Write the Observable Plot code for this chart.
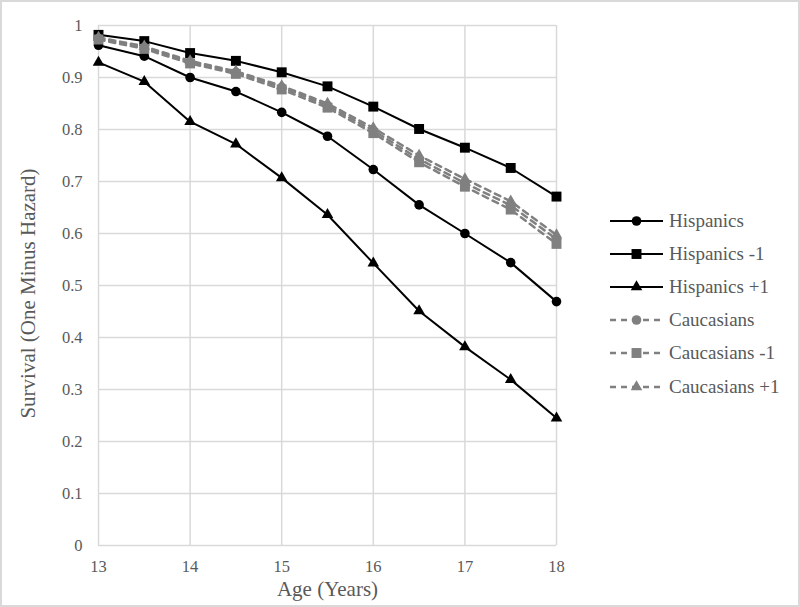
<!DOCTYPE html>
<html><head><meta charset="utf-8">
<script src="https://cdn.jsdelivr.net/npm/d3@7"></script>
<script src="https://cdn.jsdelivr.net/npm/@observablehq/plot@0.6"></script>
<style>
html,body{margin:0;padding:0;background:#fff;}
#wrap{position:relative;width:800px;height:607px;overflow:hidden;background:#fff;}
#chart{position:absolute;left:0;top:0;}
#chart svg text{font-family:"Liberation Serif","Times New Roman",serif;}
#frame{position:absolute;left:0;top:0;width:800px;height:607px;box-sizing:border-box;border:2px solid #d9d9d9;pointer-events:none;}
#legend{position:absolute;left:610px;top:204px;}
.row{display:flex;align-items:center;height:33.2px;font-family:"Liberation Serif","Times New Roman",serif;font-size:19px;color:#595959;white-space:nowrap;}
.row svg{margin-right:6px;display:block;}
</style></head>
<body><div id="wrap"><div id="chart"></div><div id="legend"></div><div id="frame"></div></div>
<script>
// ---- data ----
const ages = [13, 13.5, 14, 14.5, 15, 15.5, 16, 16.5, 17, 17.5, 18];
const hispanics        = [0.962, 0.941, 0.900, 0.873, 0.833, 0.787, 0.723, 0.655, 0.600, 0.544, 0.469];
const hispanicsMinus1  = [0.982, 0.970, 0.947, 0.932, 0.910, 0.883, 0.844, 0.801, 0.765, 0.726, 0.671];
const hispanicsPlus1   = [0.929, 0.892, 0.815, 0.772, 0.707, 0.636, 0.543, 0.451, 0.382, 0.319, 0.245];
const caucasians       = [0.975, 0.958, 0.930, 0.910, 0.881, 0.846, 0.798, 0.743, 0.697, 0.654, 0.589];
const caucasiansMinus1 = [0.973, 0.955, 0.927, 0.907, 0.877, 0.842, 0.793, 0.737, 0.690, 0.646, 0.580];
const caucasiansPlus1  = [0.977, 0.960, 0.932, 0.912, 0.884, 0.850, 0.803, 0.750, 0.705, 0.662, 0.597];
const seriesNames = ["Hispanics", "Hispanics -1", "Hispanics +1", "Caucasians", "Caucasians -1", "Caucasians +1"];
const xTicks = [13, 14, 15, 16, 17, 18];
const yTicks = [0, 0.1, 0.2, 0.3, 0.4, 0.5, 0.6, 0.7, 0.8, 0.9, 1];
const xTitle = "Age (Years)";
const yTitle = "Survival (One Minus Hazard)";

// ---- build table ----
const seriesValues = [hispanics, hispanicsMinus1, hispanicsPlus1, caucasians, caucasiansMinus1, caucasiansPlus1];
const rows = [];
seriesNames.forEach((name, i) => ages.forEach((a, j) => rows.push({series: name, age: a, value: seriesValues[i][j]})));

const styles = {
  "Hispanics":     {color: "#000000", dash: null,  symbol: "circle",   r: 4.8, width: 2},
  "Hispanics -1":  {color: "#000000", dash: null,  symbol: "square",   r: 5.6, width: 2},
  "Hispanics +1":  {color: "#000000", dash: null,  symbol: "triangle", r: 4.3, width: 2},
  "Caucasians":    {color: "#808080", dash: "6,5", symbol: "circle",   r: 4.8, width: 2.5},
  "Caucasians -1": {color: "#808080", dash: "6,5", symbol: "square",   r: 5.6, width: 2.5},
  "Caucasians +1": {color: "#808080", dash: "6,5", symbol: "triangle", r: 4.3, width: 2.5}
};

const serif = "'Liberation Serif','Times New Roman',serif";
const grid = {stroke: "#d9d9d9", strokeOpacity: 1, strokeWidth: 1.5};
const marks = [
  Plot.gridY(yTicks, grid),
  Plot.gridX(xTicks, grid),
  Plot.axisX(xTicks, {tickSize: 0, tickPadding: 15, fontSize: 16.5, fontFamily: serif, fill: "#595959", label: null, tickFormat: d => String(d)}),
  Plot.axisY(yTicks, {tickSize: 0, tickPadding: 16, fontSize: 16.5, fontFamily: serif, fill: "#595959", label: null, tickFormat: d => String(d)}),
  Plot.text([xTitle], {text: d => d, frameAnchor: "bottom", dy: 50, fontSize: 21, fontFamily: serif, fill: "#595959"}),
  Plot.text([yTitle], {text: d => d, frameAnchor: "left", textAnchor: "middle", dx: -70, dy: 8, rotate: -90, fontSize: 21, fontFamily: serif, fill: "#595959"})
];
seriesNames.forEach(name => {
  const s = styles[name];
  const d = rows.filter(r => r.series === name);
  marks.push(Plot.line(d, {x: "age", y: "value", stroke: s.color, strokeWidth: s.width, strokeDasharray: s.dash}));
  marks.push(Plot.dot(d, {x: "age", y: "value", symbol: s.symbol, r: s.r, fill: s.color, stroke: "none"}));
});

const chart = Plot.plot({
  width: 800, height: 607,
  marginLeft: 98, marginRight: 244, marginTop: 25, marginBottom: 62,
  x: {domain: [13, 18]},
  y: {domain: [0, 1]},
  style: {fontFamily: serif, color: "#595959", background: "#fff"},
  marks
});
document.getElementById("chart").appendChild(chart);

// ---- legend ----
const legend = document.getElementById("legend");
seriesNames.forEach(name => {
  const s = styles[name];
  const row = document.createElement("div");
  row.className = "row";
  const svg = d3.create("svg").attr("width", 53).attr("height", 20);
  svg.append("line").attr("x1", 0).attr("x2", 53).attr("y1", 10).attr("y2", 10)
    .attr("stroke", s.color).attr("stroke-width", s.width).attr("stroke-dasharray", s.dash);
  const sym = {circle: d3.symbolCircle, square: d3.symbolSquare, triangle: d3.symbolTriangle}[s.symbol];
  svg.append("path").attr("transform", "translate(26.5,10)")
    .attr("d", d3.symbol(sym, Math.PI * s.r * s.r)()).attr("fill", s.color);
  row.appendChild(svg.node());
  const t = document.createElement("span");
  t.textContent = name;
  row.appendChild(t);
  legend.appendChild(row);
});
</script>
</body></html>
